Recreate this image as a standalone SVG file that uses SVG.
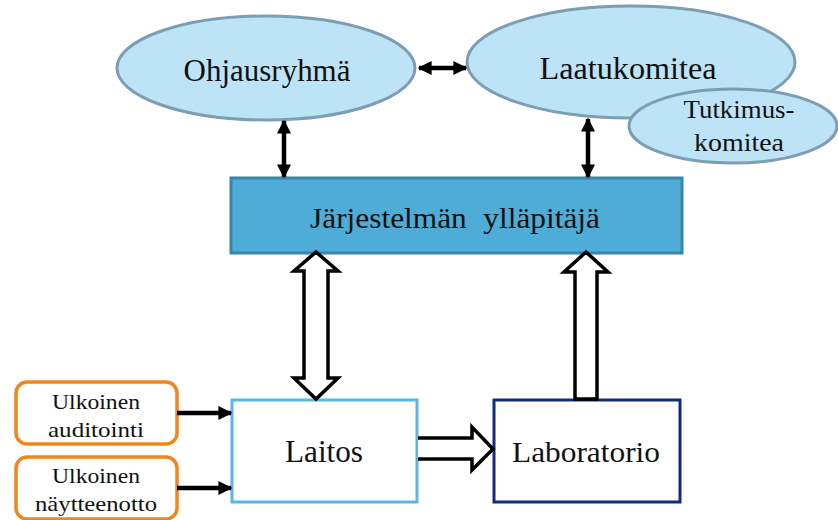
<svg xmlns="http://www.w3.org/2000/svg" width="838" height="520" viewBox="0 0 838 520">
<defs>
<style>
text{font-family:"Liberation Serif","Times New Roman",serif;fill:#111;text-anchor:middle}
.ell{fill:#bde3f6;stroke:#7d9db3;stroke-width:3}
.thin{stroke:#000;stroke-width:4.5;fill:none}
.hollow{fill:#fff;stroke:#000;stroke-width:3.5;stroke-linejoin:miter}
.ext{fill:#fff;stroke:#f0861e;stroke-width:3.5}
</style>
<marker id="ah" viewBox="0 0 10 10" refX="9" refY="5" markerWidth="14" markerHeight="17" markerUnits="userSpaceOnUse" orient="auto-start-reverse">
<path d="M0,0 L10,5 L0,10 z" fill="#000"/>
</marker>
<marker id="ah2" viewBox="0 0 10 10" refX="9" refY="5" markerWidth="14" markerHeight="14" markerUnits="userSpaceOnUse" orient="auto">
<path d="M0,0 L10,5 L0,10 z" fill="#000"/>
</marker>
</defs>
<rect width="838" height="520" fill="#fff"/>
<g id="ohjausryhma">
<ellipse class="ell" cx="266" cy="68" rx="149" ry="52"/>
<text x="267" y="81" font-size="31" textLength="167" lengthAdjust="spacingAndGlyphs">Ohjausryhmä</text>
</g>
<g id="laatukomitea">
<ellipse class="ell" cx="631" cy="62" rx="164" ry="56"/>
<text x="628" y="79" font-size="31" textLength="177" lengthAdjust="spacingAndGlyphs">Laatukomitea</text>
</g>
<g id="tutkimuskomitea">
<ellipse class="ell" cx="733" cy="126" rx="104" ry="37"/>
<text x="739" y="118" font-size="25" textLength="111" lengthAdjust="spacingAndGlyphs">Tutkimus-</text>
<text x="739" y="151" font-size="25" textLength="90" lengthAdjust="spacingAndGlyphs">komitea</text>
</g>
<g id="yllapitaja">
<rect x="231" y="178" width="451" height="75" fill="#4eacd6" stroke="#3786ad" stroke-width="3"/>
<text x="455" y="228" font-size="29" word-spacing="8" textLength="290" lengthAdjust="spacingAndGlyphs">Järjestelmän ylläpitäjä</text>
</g>
<g id="laitos">
<rect x="232" y="400" width="185" height="102" fill="#fff" stroke="#5ab6e2" stroke-width="3"/>
<text x="324" y="462" font-size="31" textLength="78" lengthAdjust="spacingAndGlyphs">Laitos</text>
</g>
<g id="laboratorio">
<rect x="494" y="400" width="186" height="102" fill="#fff" stroke="#132c7c" stroke-width="3"/>
<text x="586" y="462" font-size="30" textLength="148" lengthAdjust="spacingAndGlyphs">Laboratorio</text>
</g>
<g id="ulkoinen-auditointi">
<rect class="ext" x="16" y="382" width="161" height="62" rx="11"/>
<text x="96" y="409" font-size="22" textLength="88" lengthAdjust="spacingAndGlyphs">Ulkoinen</text>
<text x="96" y="437" font-size="22" textLength="96" lengthAdjust="spacingAndGlyphs">auditointi</text>
</g>
<g id="ulkoinen-naytteenotto">
<rect class="ext" x="16" y="457" width="161" height="62" rx="11"/>
<text x="96" y="483" font-size="22" textLength="88" lengthAdjust="spacingAndGlyphs">Ulkoinen</text>
<text x="96" y="511" font-size="22" textLength="122" lengthAdjust="spacingAndGlyphs">näytteenotto</text>
</g>
<g id="connectors">
<line class="thin" x1="419" y1="68" x2="466" y2="68" marker-start="url(#ah)" marker-end="url(#ah)"/>
<line class="thin" x1="284" y1="121" x2="284" y2="177" marker-start="url(#ah)" marker-end="url(#ah)"/>
<line class="thin" x1="588" y1="119" x2="588" y2="177" marker-start="url(#ah)" marker-end="url(#ah)"/>
<line class="thin" x1="177" y1="413" x2="231" y2="413" stroke-width="4" marker-end="url(#ah2)"/>
<line class="thin" x1="177" y1="488" x2="231" y2="488" stroke-width="4" marker-end="url(#ah2)"/>
<path class="hollow" d="M316,252 L338,271 L328,271 L328,378 L338,378 L316,399 L294,378 L304,378 L304,271 L294,271 Z"/>
<path class="hollow" d="M586,252 L608,272 L597,272 L597,399 L575,399 L575,272 L564,272 Z"/>
<path class="hollow" d="M418,438 L472,438 L472,427 L493,449 L472,470 L472,459 L418,459"/>
</g>
</svg>
